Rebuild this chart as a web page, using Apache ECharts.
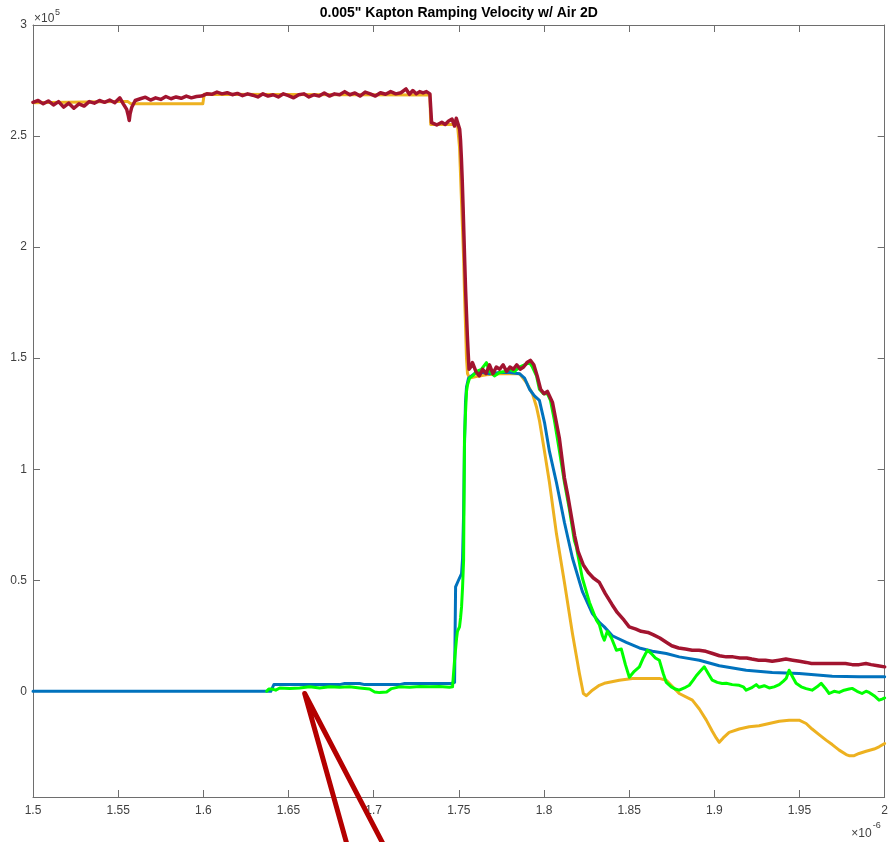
<!DOCTYPE html>
<html>
<head>
<meta charset="utf-8">
<script src="https://cdn.jsdelivr.net/npm/echarts@6/dist/echarts.min.js"></script>
<style>
  html, body { margin: 0; padding: 0; background: #fff; }
  #chart { width: 891px; height: 842px; }
</style>
</head>
<body>
<div id="chart"></div>
<script>
// Time in units of 1e-6 s, velocity in units of 1e5.
const xTicks = [1.5, 1.55, 1.6, 1.65, 1.7, 1.75, 1.8, 1.85, 1.9, 1.95, 2];
const yTicks = [0, 0.5, 1, 1.5, 2, 2.5, 3];

// Dark red trace
const redT = [1.500,1.503,1.506,1.509,1.512,1.515,1.518,1.521,1.524,1.527,1.530,1.533,1.536,1.539,1.542,1.545,1.548,1.551,1.553,1.555,1.556,1.5565,1.557,1.558,1.560,1.563,1.566,1.569,1.572,1.575,1.578,1.581,1.584,1.587,1.590,1.593,1.596,1.599,1.602,1.605,1.608,1.611,1.614,1.617,1.620,1.623,1.626,1.629,1.632,1.635,1.638,1.641,1.644,1.647,1.650,1.653,1.656,1.659,1.662,1.665,1.668,1.671,1.674,1.677,1.680,1.683,1.686,1.689,1.692,1.695,1.698,1.701,1.704,1.707,1.710,1.713,1.716,1.719,1.721,1.723,1.725,1.727,1.729,1.731,1.733,1.734,1.737,1.740,1.742,1.744,1.746,1.7475,1.7485,1.7495,1.7505,1.751,1.7515,1.752,1.7525,1.753,1.7535,1.754,1.7545,1.755,1.7555,1.756,1.757,1.758,1.760,1.762,1.764,1.766,1.768,1.770,1.772,1.774,1.776,1.778,1.780,1.782,1.784,1.786,1.788,1.790,1.792,1.794,1.796,1.798,1.800,1.802,1.803,1.805,1.807,1.809,1.812,1.814,1.816,1.818,1.820,1.823,1.826,1.829,1.8325,1.836,1.840,1.843,1.847,1.850,1.854,1.857,1.861,1.864,1.868,1.872,1.875,1.879,1.883,1.887,1.891,1.895,1.899,1.903,1.907,1.911,1.915,1.919,1.922,1.926,1.930,1.934,1.938,1.942,1.946,1.950,1.954,1.957,1.961,1.965,1.969,1.973,1.977,1.981,1.985,1.989,1.992,1.996,2.000];
const redV = [2.652,2.660,2.645,2.658,2.640,2.655,2.630,2.648,2.625,2.645,2.635,2.655,2.648,2.660,2.652,2.662,2.650,2.672,2.645,2.620,2.590,2.570,2.600,2.630,2.660,2.668,2.675,2.662,2.672,2.665,2.678,2.668,2.676,2.670,2.680,2.672,2.678,2.680,2.690,2.688,2.698,2.690,2.695,2.686,2.692,2.682,2.690,2.684,2.676,2.690,2.680,2.686,2.676,2.690,2.682,2.672,2.686,2.690,2.676,2.686,2.680,2.694,2.680,2.690,2.686,2.700,2.686,2.694,2.680,2.698,2.690,2.680,2.695,2.688,2.700,2.690,2.695,2.712,2.688,2.705,2.690,2.700,2.694,2.700,2.690,2.560,2.550,2.562,2.552,2.568,2.576,2.545,2.580,2.575,2.530,2.480,2.400,2.300,2.180,2.050,1.920,1.800,1.700,1.600,1.520,1.450,1.460,1.480,1.440,1.420,1.450,1.430,1.470,1.430,1.460,1.450,1.470,1.440,1.460,1.450,1.470,1.450,1.460,1.480,1.490,1.470,1.420,1.360,1.340,1.350,1.350,1.300,1.220,1.140,0.960,0.880,0.790,0.700,0.630,0.570,0.535,0.510,0.490,0.440,0.390,0.355,0.320,0.290,0.280,0.270,0.265,0.255,0.240,0.220,0.205,0.195,0.190,0.185,0.185,0.180,0.170,0.160,0.155,0.155,0.150,0.150,0.145,0.140,0.140,0.135,0.140,0.145,0.140,0.135,0.130,0.125,0.125,0.125,0.125,0.125,0.125,0.120,0.120,0.125,0.120,0.115,0.110];

// Orange trace
const orangeT = [1.500,1.550,1.5557,1.5575,1.5997,1.6005,1.733,1.7335,1.7492,1.7504,1.7516,1.7528,1.7533,1.7539,1.7545,1.7551,1.7563,1.7621,1.7662,1.7739,1.7856,1.7897,1.7932,1.7956,1.7973,1.8003,1.8032,1.8073,1.8120,1.8167,1.8208,1.8231,1.8249,1.8284,1.8325,1.8354,1.8442,1.8519,1.8677,1.8718,1.8794,1.8871,1.8912,1.8953,1.8988,1.9011,1.9029,1.9052,1.9087,1.9146,1.9205,1.9263,1.9322,1.9381,1.9439,1.9498,1.9539,1.9574,1.9615,1.9656,1.9692,1.9733,1.9774,1.9791,1.9821,1.9850,1.9891,1.9938,1.9967,2.000];
const orangeV = [2.650,2.655,2.655,2.645,2.645,2.688,2.685,2.552,2.552,2.450,2.200,1.950,1.800,1.650,1.500,1.430,1.410,1.420,1.425,1.430,1.430,1.390,1.340,1.280,1.220,1.080,0.940,0.710,0.490,0.260,0.080,-0.010,-0.020,0.005,0.027,0.036,0.050,0.058,0.058,0.050,-0.010,-0.040,-0.080,-0.130,-0.180,-0.210,-0.230,-0.210,-0.185,-0.170,-0.160,-0.155,-0.145,-0.135,-0.130,-0.130,-0.145,-0.170,-0.195,-0.220,-0.240,-0.265,-0.285,-0.290,-0.290,-0.280,-0.270,-0.260,-0.250,-0.235];

// Blue trace
const blueT = [1.500,1.6396,1.6414,1.6566,1.6800,1.6830,1.6918,1.6947,1.7152,1.7182,1.7457,1.7475,1.7481,1.7498,1.7516,1.7522,1.7528,1.7533,1.7539,1.7545,1.7557,1.7574,1.7610,1.7680,1.7739,1.7797,1.7856,1.7886,1.7915,1.7944,1.7973,1.8003,1.8032,1.8073,1.8120,1.8167,1.8225,1.8284,1.8325,1.8354,1.8401,1.8483,1.8560,1.8636,1.8718,1.8794,1.8912,1.9029,1.9187,1.9340,1.9498,1.9692,1.9850,2.000];
const blueV = [0,0,0.030,0.030,0.030,0.035,0.035,0.030,0.030,0.035,0.035,0.040,0.470,0.500,0.530,0.600,0.800,1.100,1.300,1.370,1.410,1.420,1.440,1.430,1.435,1.435,1.430,1.410,1.360,1.330,1.310,1.210,1.080,0.940,0.760,0.600,0.450,0.350,0.310,0.290,0.250,0.220,0.195,0.180,0.170,0.155,0.140,0.115,0.095,0.085,0.080,0.068,0.065,0.065];

// Green trace
const greenT = [1.6372,1.6384,1.6402,1.6425,1.6449,1.6507,1.6566,1.6624,1.6683,1.6742,1.6800,1.6859,1.6918,1.6976,1.7006,1.7035,1.7076,1.7105,1.7152,1.7211,1.7270,1.7328,1.7387,1.7445,1.7463,1.7475,1.7487,1.7492,1.7504,1.7510,1.7516,1.7522,1.7528,1.7533,1.7539,1.7545,1.7551,1.7563,1.7580,1.7604,1.7633,1.7662,1.7680,1.7709,1.7739,1.7768,1.7797,1.7827,1.7856,1.7885,1.7915,1.7932,1.7956,1.7973,1.7997,1.8020,1.8038,1.8061,1.8091,1.8120,1.8149,1.8178,1.8190,1.8225,1.8267,1.8308,1.8325,1.8343,1.8354,1.8372,1.8396,1.8425,1.8454,1.8478,1.8501,1.8530,1.8560,1.8583,1.8607,1.8630,1.8654,1.8677,1.8700,1.8718,1.8747,1.8771,1.8794,1.8824,1.8853,1.8876,1.8894,1.8917,1.8941,1.8964,1.8988,1.9017,1.9046,1.9070,1.9105,1.9146,1.9170,1.9187,1.9217,1.9246,1.9263,1.9293,1.9322,1.9351,1.9381,1.9404,1.9422,1.9439,1.9463,1.9480,1.9510,1.9539,1.9574,1.9603,1.9627,1.9650,1.9674,1.9703,1.9733,1.9762,1.9791,1.9809,1.9838,1.9867,1.9891,1.9909,1.9938,1.9967,1.9985,2.000];
const greenV = [0.000,0.010,0.010,0.005,0.015,0.012,0.015,0.020,0.015,0.020,0.018,0.020,0.015,0.010,-0.003,-0.006,-0.003,0.012,0.020,0.018,0.022,0.020,0.022,0.018,0.020,0.140,0.240,0.270,0.290,0.330,0.380,0.470,0.590,1.130,1.250,1.350,1.380,1.410,1.420,1.440,1.450,1.480,1.440,1.420,1.435,1.440,1.450,1.440,1.460,1.470,1.480,1.460,1.420,1.360,1.340,1.340,1.310,1.220,1.080,0.940,0.820,0.680,0.650,0.510,0.400,0.320,0.300,0.250,0.230,0.270,0.240,0.185,0.190,0.120,0.063,0.090,0.110,0.150,0.185,0.170,0.150,0.140,0.080,0.040,0.020,0.010,0.005,0.015,0.027,0.050,0.070,0.090,0.110,0.080,0.050,0.040,0.035,0.036,0.030,0.027,0.020,0.005,0.015,0.030,0.018,0.025,0.015,0.020,0.030,0.045,0.058,0.095,0.060,0.036,0.020,0.012,0.005,0.020,0.036,0.015,-0.010,0.000,-0.005,0.005,0.010,0.013,0.000,-0.010,0.000,-0.005,-0.020,-0.040,-0.035,-0.030];

// Annotation pointer: tip and the two tail ends, in data units
const pointerTip = [1.6595, -0.01];
const pointerEnds = [[1.6847, -0.70], [1.7064, -0.70]];

const X_MIN = 1.5, X_MAX = 2, Y_MIN = -0.476, Y_MAX = 3;
const FONT = '"Liberation Sans", Arial, Helvetica, sans-serif';
const AXIS_COLOR = '#6e6e6e';
const LABEL_COLOR = '#404040';

function pairs(t, v) { return t.map((x, i) => [x, v[i]]); }

const chart = echarts.init(document.getElementById('chart'), null, { renderer: 'canvas' });

const tickStyle = { show: true, inside: true, length: 7, lineStyle: { color: AXIS_COLOR, width: 1 } };
const lineStyleAxis = { show: true, onZero: false, lineStyle: { color: AXIS_COLOR, width: 1 } };

function lineSeries(name, data, color, width, z) {
  return {
    name, type: 'line', data, xAxisIndex: 0, yAxisIndex: 0,
    showSymbol: false, symbol: 'none', sampling: null,
    lineStyle: { color, width, join: 'round', cap: 'round' },
    itemStyle: { color },
    z, animation: false, silent: true
  };
}

chart.setOption({
  animation: false,
  backgroundColor: '#ffffff',
  textStyle: { fontFamily: FONT },
  grid: { left: 33, right: 5, top: 25, bottom: 45, containLabel: false },
  xAxis: [
    {
      type: 'value', position: 'bottom', min: X_MIN, max: X_MAX, interval: 0.05,
      axisLine: lineStyleAxis, axisTick: tickStyle, splitLine: { show: false },
      axisLabel: {
        show: true, margin: 8, color: LABEL_COLOR, fontSize: 12, fontFamily: FONT,
        showMinLabel: true, showMaxLabel: true,
        formatter: v => String(parseFloat(v.toFixed(2)))
      }
    },
    {
      type: 'value', position: 'top', min: X_MIN, max: X_MAX, interval: 0.05,
      axisLine: lineStyleAxis, axisTick: tickStyle, splitLine: { show: false },
      axisLabel: { show: false }
    }
  ],
  yAxis: [
    {
      type: 'value', position: 'left', min: Y_MIN, max: Y_MAX,
      axisLine: lineStyleAxis,
      axisTick: Object.assign({}, tickStyle, { customValues: yTicks }),
      splitLine: { show: false },
      axisLabel: {
        show: true, margin: 6, color: LABEL_COLOR, fontSize: 12, fontFamily: FONT,
        customValues: yTicks,
        formatter: v => String(v)
      }
    },
    {
      type: 'value', position: 'right', min: Y_MIN, max: Y_MAX,
      axisLine: lineStyleAxis,
      axisTick: Object.assign({}, tickStyle, { customValues: yTicks }),
      splitLine: { show: false },
      axisLabel: { show: false, customValues: yTicks }
    }
  ],
  series: [
    lineSeries('orange', pairs(orangeT, orangeV), '#EDB120', 3, 2),
    lineSeries('blue', pairs(blueT, blueV), '#0072BD', 3, 3),
    lineSeries('green', pairs(greenT, greenV), '#00FF00', 3, 4),
    lineSeries('red', pairs(redT, redV), '#A2142F', 3.5, 5)
  ]
});

function drawDecorations() {
  const toPx = p => chart.convertToPixel({ xAxisIndex: 0, yAxisIndex: 0 }, p);
  const tip = toPx(pointerTip);
  const e1 = toPx(pointerEnds[0]);
  const e2 = toPx(pointerEnds[1]);
  const rect = chart.getModel().getComponent('grid').coordinateSystem.getRect();
  const cx = rect.x + rect.width / 2;

  chart.setOption({
    graphic: [
      {
        type: 'text', x: cx, y: 13, z: 10,
        style: {
          text: '0.005" Kapton Ramping Velocity w/ Air 2D',
          font: 'bold 14px ' + FONT, fill: '#000000',
          align: 'center', verticalAlign: 'middle'
        }
      },
      {
        type: 'text', x: rect.x + 1, y: 19, z: 10,
        style: { text: '\u00d710', font: '12px ' + FONT, fill: LABEL_COLOR, align: 'left', verticalAlign: 'middle' }
      },
      {
        type: 'text', x: rect.x + 22, y: 13, z: 10,
        style: { text: '5', font: '9px ' + FONT, fill: LABEL_COLOR, align: 'left', verticalAlign: 'middle' }
      },
      {
        type: 'text', x: rect.x + rect.width - 13, y: 834, z: 10,
        style: { text: '\u00d710', font: '12px ' + FONT, fill: LABEL_COLOR, align: 'right', verticalAlign: 'middle' }
      },
      {
        type: 'text', x: rect.x + rect.width - 12, y: 826, z: 10,
        style: { text: '-6', font: '9px ' + FONT, fill: LABEL_COLOR, align: 'left', verticalAlign: 'middle' }
      },
      {
        type: 'polyline', z: 20,
        shape: { points: [e1, tip, e2] },
        style: { stroke: '#B40000', lineWidth: 5, fill: null, lineJoin: 'round', lineCap: 'butt' }
      }
    ]
  });
}
drawDecorations();
</script>
</body>
</html>
